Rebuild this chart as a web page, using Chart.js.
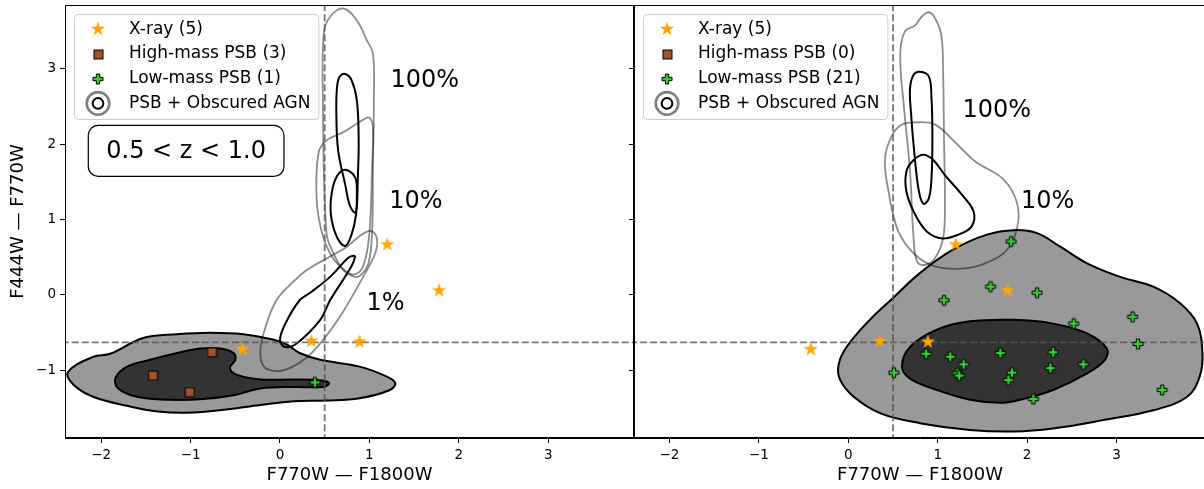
<!DOCTYPE html>
<html>
<head>
<meta charset="utf-8">
<script src="https://cdn.jsdelivr.net/npm/chart.js@4/dist/chart.umd.min.js"></script>
<style>
    html, body { margin: 0; padding: 0; background: #fff; overflow: hidden; }
    body { width: 1204px; height: 489px; position: relative; }
    canvas { position: absolute; top: 0; }
    #izquierda { left: 0; }
    #derecha { left: 628px; }
</style>
</head>
<body>
<canvas id="izquierda" width="635" height="489"></canvas>
<canvas id="derecha" width="578" height="489"></canvas>
<script>
// ---- datos ----
const ticksX = [-2, -1, 0, 1, 2, 3];
const ticksY = [-1, 0, 1, 2, 3];

const corteX = 0.5;
const corteY = -0.63;

const rayosX = [[-0.42, -0.72], [0.35, -0.61], [0.89, -0.62], [1.20, 0.67], [1.78, 0.06]];

const masaAltaIzq = [[-1.42, -1.07], [-0.76, -0.76], [-1.01, -1.29]];
const masaBajaIzq = [[0.39, -1.16]];
const masaAltaDer = [];
const masaBajaDer = [
    [1.82, 0.71], [1.59, 0.11], [2.11, 0.03], [1.07, -0.07], [2.52, -0.38], [3.18, -0.29], [3.24, -0.65],
    [0.87, -0.78], [1.14, -0.82], [1.29, -0.92], [1.70, -0.77], [2.29, -0.76], [2.63, -0.92], [2.26, -0.97],
    [1.83, -1.03], [1.79, -1.13], [1.22, -1.04], [1.24, -1.07], [0.51, -1.03], [2.07, -1.38], [3.51, -1.26]
];

// contornos del panel izquierdo
const rellenoExtIzq = [
    [-2.37, -1.02], [-2.09, -0.82], [-1.90, -0.78], [-1.53, -0.57], [-1.15, -0.52], [-0.78, -0.50], [-0.41, -0.52],
    [-0.08, -0.59], [0.08, -0.66], [0.22, -0.77], [0.45, -0.86], [0.89, -0.95], [1.19, -1.08], [1.29, -1.17],
    [1.23, -1.26], [0.89, -1.37], [0.52, -1.40], [0.15, -1.41], [-0.22, -1.46], [-0.60, -1.52], [-0.97, -1.56],
    [-1.34, -1.55], [-1.71, -1.47], [-2.09, -1.35], [-2.31, -1.19]
];
const rellenoIntIzq = [
    [-1.84, -1.10], [-1.71, -0.95], [-1.42, -0.85], [-1.15, -0.77], [-0.89, -0.71], [-0.67, -0.71], [-0.52, -0.77],
    [-0.50, -0.86], [-0.56, -0.97], [-0.48, -1.06], [-0.22, -1.12], [0.15, -1.12], [0.45, -1.13], [0.55, -1.17],
    [0.48, -1.22], [0.15, -1.22], [-0.22, -1.24], [-0.52, -1.33], [-0.86, -1.38], [-1.23, -1.39], [-1.60, -1.35],
    [-1.81, -1.24]
];
const negro100Izq = [
    [0.73, 2.93], [0.80, 2.85], [0.86, 2.58], [0.88, 2.05], [0.87, 1.52], [0.86, 1.19], [0.84, 1.09],
    [0.78, 1.19], [0.73, 1.46], [0.65, 1.92], [0.63, 2.45], [0.64, 2.78], [0.67, 2.90]
];
const negro10Izq = [
    [0.73, 1.66], [0.84, 1.56], [0.86, 1.33], [0.85, 1.06], [0.80, 0.80], [0.73, 0.65], [0.64, 0.76],
    [0.57, 1.06], [0.58, 1.36], [0.64, 1.58]
];
const negro1Izq = [
    [0.84, 0.51], [0.80, 0.38], [0.56, -0.07], [0.45, -0.33], [0.19, -0.64], [0.06, -0.69], [0.00, -0.60],
    [0.06, -0.38], [0.22, -0.07], [0.35, 0.04], [0.56, 0.24], [0.76, 0.49], [0.82, 0.52]
];
const gris100Izq = [
    [0.71, 3.80], [0.86, 3.64], [0.97, 3.38], [1.04, 3.20], [1.05, 2.58], [1.04, 1.70], [1.03, 0.82],
    [0.99, 0.42], [0.91, 0.27], [0.84, 0.24], [0.71, 0.33], [0.60, 0.55], [0.52, 0.82], [0.48, 2.58],
    [0.49, 3.47], [0.56, 3.69]
];
const gris10Izq = [
    [0.97, 2.35], [0.71, 2.16], [0.52, 2.05], [0.43, 1.88], [0.41, 1.26], [0.47, 0.82], [0.56, 0.55],
    [0.67, 0.38], [0.82, 0.27], [0.93, 0.38], [1.00, 0.82], [1.03, 1.70], [1.04, 2.23], [1.01, 2.34]
];
const gris1Izq = [
    [1.01, 0.85], [1.08, 0.77], [1.07, 0.57], [0.93, 0.24], [0.67, -0.29], [0.48, -0.60], [0.30, -0.83],
    [0.11, -0.97], [-0.04, -1.01], [-0.18, -0.95], [-0.22, -0.73], [-0.15, -0.38], [-0.04, -0.07], [0.11, 0.13],
    [0.30, 0.33], [0.56, 0.51], [0.75, 0.64], [0.89, 0.78]
];

// contornos del panel derecho
const rellenoExtDer = [
    [-0.11, -0.93], [-0.02, -0.69], [0.24, -0.33], [0.50, -0.04], [0.80, 0.29], [1.17, 0.60], [1.55, 0.80],
    [1.85, 0.86], [2.11, 0.82], [2.37, 0.64], [2.67, 0.42], [3.04, 0.24], [3.41, 0.11], [3.71, -0.11],
    [3.90, -0.38], [3.96, -0.77], [3.93, -1.08], [3.79, -1.35], [3.41, -1.53], [2.85, -1.66], [2.29, -1.77],
    [1.85, -1.81], [1.36, -1.79], [0.80, -1.70], [0.36, -1.57], [0.06, -1.35], [-0.09, -1.13]
];
const rellenoIntDer = [
    [0.60, -0.95], [0.69, -0.69], [0.99, -0.46], [1.36, -0.35], [1.85, -0.33], [2.29, -0.38], [2.67, -0.51],
    [2.89, -0.71], [2.87, -0.86], [2.67, -1.04], [2.29, -1.26], [1.92, -1.39], [1.70, -1.43], [1.36, -1.39],
    [0.99, -1.26], [0.69, -1.11]
];
const negro100Der = [
    [0.80, 2.96], [0.90, 2.90], [0.93, 2.61], [0.94, 2.08], [0.93, 1.55], [0.90, 1.28], [0.84, 1.21],
    [0.79, 1.37], [0.74, 1.86], [0.70, 2.43], [0.69, 2.74], [0.73, 2.92]
];
const negro10Der = [
    [0.84, 1.86], [0.95, 1.79], [1.08, 1.59], [1.27, 1.33], [1.40, 1.11], [1.38, 0.91], [1.23, 0.80],
    [1.05, 0.75], [0.88, 0.84], [0.75, 1.06], [0.65, 1.37], [0.65, 1.64], [0.73, 1.79]
];
const gris100Der = [
    [0.90, 3.75], [0.97, 3.67], [1.04, 3.45], [1.06, 2.96], [1.07, 2.08], [1.08, 1.19], [1.06, 0.75],
    [0.97, 0.49], [0.86, 0.40], [0.77, 0.44], [0.73, 0.75], [0.69, 1.64], [0.62, 2.52], [0.58, 3.18],
    [0.63, 3.49], [0.75, 3.58], [0.82, 3.69]
];
const gris10Der = [
    [0.75, 2.29], [0.97, 2.26], [1.19, 2.03], [1.42, 1.77], [1.72, 1.55], [1.87, 1.28], [1.90, 0.97],
    [1.79, 0.62], [1.53, 0.42], [1.27, 0.35], [0.97, 0.38], [0.75, 0.53], [0.56, 0.84], [0.45, 1.37],
    [0.41, 1.81], [0.49, 2.12], [0.60, 2.26]
];

const leyendaIzq = ["X-ray (5)", "High-mass PSB (3)", "Low-mass PSB (1)", "PSB + Obscured AGN"];
const leyendaDer = ["X-ray (5)", "High-mass PSB (0)", "Low-mass PSB (21)", "PSB + Obscured AGN"];

const etiquetasIzq = [
    { texto: "100%", x: 1.62, y: 2.84 },
    { texto: "10%", x: 1.52, y: 1.24 },
    { texto: "1%", x: 1.18, y: -0.12 }
];
const etiquetasDer = [
    { texto: "100%", x: 1.66, y: 2.44 },
    { texto: "10%", x: 2.23, y: 1.24 }
];
const cajaRedshift = { texto: "0.5 < z < 1.0", x: -1.05, y: 1.91 };

const tituloX = "F770W \u2014 F1800W";
const tituloY = "F444W \u2014 F770W";

// ---- estilo ----
const fuente = "'DejaVu Sans', sans-serif";
Chart.defaults.font.family = fuente;
Chart.defaults.color = "#000";

function pares(lista) {
    return lista.map(([x, y]) => ({ x: x, y: y }));
}

function formatoTick(valor) {
    return valor < 0 ? "\u2212" + Math.abs(valor) : String(valor);
}

function rectRedondeado(ctx, x, y, w, h, r) {
    ctx.beginPath();
    ctx.moveTo(x + r, y);
    ctx.lineTo(x + w - r, y);
    ctx.arcTo(x + w, y, x + w, y + r, r);
    ctx.lineTo(x + w, y + h - r);
    ctx.arcTo(x + w, y + h, x + w - r, y + h, r);
    ctx.lineTo(x + r, y + h);
    ctx.arcTo(x, y + h, x, y + h - r, r);
    ctx.lineTo(x, y + r);
    ctx.arcTo(x, y, x + r, y, r);
    ctx.closePath();
}

function crearEstrella(radio) {
    const lienzo = document.createElement("canvas");
    const lado = Math.ceil(radio * 2 + 2);
    lienzo.width = lado;
    lienzo.height = lado;
    const ctx = lienzo.getContext("2d");
    ctx.translate(lado / 2, lado / 2);
    ctx.beginPath();
    for (let i = 0; i < 10; i++) {
        const r = i % 2 === 0 ? radio : radio * 0.382;
        const a = -Math.PI / 2 + i * Math.PI / 5;
        ctx.lineTo(r * Math.cos(a), r * Math.sin(a));
    }
    ctx.closePath();
    ctx.fillStyle = "#ffa500";
    ctx.fill();
    return lienzo;
}

function crearCuadrado(lado) {
    const lienzo = document.createElement("canvas");
    lienzo.width = lado + 2;
    lienzo.height = lado + 2;
    const ctx = lienzo.getContext("2d");
    ctx.fillStyle = "#a0522d";
    ctx.fillRect(1, 1, lado, lado);
    ctx.strokeStyle = "#000";
    ctx.lineWidth = 1;
    ctx.strokeRect(1, 1, lado, lado);
    return lienzo;
}

function crearCruz(tam) {
    const lienzo = document.createElement("canvas");
    lienzo.width = tam + 2;
    lienzo.height = tam + 2;
    const ctx = lienzo.getContext("2d");
    const s = tam / 6;
    const forma = [[-1, -3], [-1, -1], [-3, -1], [-3, 1], [-1, 1], [-1, 3], [1, 3], [1, 1], [3, 1], [3, -1], [1, -1], [1, -3]];
    ctx.translate(lienzo.width / 2, lienzo.height / 2);
    ctx.beginPath();
    forma.forEach(([a, b]) => ctx.lineTo(a * s / 2, b * s / 2));
    ctx.closePath();
    ctx.fillStyle = "#32cd32";
    ctx.fill();
    ctx.strokeStyle = "#000";
    ctx.lineWidth = 1;
    ctx.stroke();
    return lienzo;
}

const estrella = crearEstrella(7.6);
const cuadrado = crearCuadrado(9);
const cruz = crearCruz(20);

function dibujarLeyenda(chart, textos) {
    const ctx = chart.ctx;
    const area = chart.chartArea;
    ctx.save();
    ctx.font = "17px " + fuente;
    const anchoTexto = Math.max(...textos.map((t) => ctx.measureText(t).width));
    const x0 = area.left + 9;
    const y0 = area.top + 9;
    rectRedondeado(ctx, x0 + 0.5, y0 + 0.5, 55 + anchoTexto + 8, 105, 4);
    ctx.fillStyle = "rgba(255,255,255,0.8)";
    ctx.fill();
    ctx.strokeStyle = "#cccccc";
    ctx.lineWidth = 1;
    ctx.stroke();

    const simbolos = [estrella, cuadrado, cruz];
    textos.forEach((texto, i) => {
        const cx = x0 + 24;
        const cy = y0 + 15.3 + i * 24.7;
        if (i < 3) {
            const img = simbolos[i];
            ctx.drawImage(img, Math.round(cx - img.width / 2), Math.round(cy - img.height / 2));
        } else {
            ctx.beginPath();
            ctx.arc(cx, cy, 11.3, 0, Math.PI * 2);
            ctx.strokeStyle = "#808080";
            ctx.lineWidth = 2.6;
            ctx.stroke();
            ctx.beginPath();
            ctx.arc(cx, cy, 5.3, 0, Math.PI * 2);
            ctx.strokeStyle = "#000";
            ctx.lineWidth = 2;
            ctx.stroke();
        }
        ctx.fillStyle = "#000";
        ctx.textAlign = "left";
        ctx.textBaseline = "middle";
        ctx.fillText(texto, x0 + 55, cy);
    });
    ctx.restore();
}

function crearPlugin(nombre, etiquetas, leyenda, caja) {
    return {
        id: "panel" + nombre,
        afterDatasetUpdate(chart, args) {
            const conjunto = chart.data.datasets[args.index];
            if (conjunto.cerrado && args.meta.dataset) {
                args.meta.dataset._loop = true;
                args.meta.dataset._fullLoop = true;
            }
        },
        afterDatasetsDraw(chart) {
            const ctx = chart.ctx;
            const area = chart.chartArea;
            const ejeX = chart.scales.x;
            const ejeY = chart.scales.y;
            ctx.save();
            ctx.strokeStyle = "#000";
            ctx.lineWidth = 1;
            ctx.strokeRect(area.left + 0.5, area.top + 0.5, area.right - area.left - 1, area.bottom - area.top - 1);

            ctx.font = "24px " + fuente;
            ctx.fillStyle = "#000";
            ctx.textAlign = "center";
            ctx.textBaseline = "middle";
            for (const e of etiquetas) {
                ctx.fillText(e.texto, ejeX.getPixelForValue(e.x), ejeY.getPixelForValue(e.y));
            }

            if (caja) {
                const cx = ejeX.getPixelForValue(caja.x);
                const cy = ejeY.getPixelForValue(caja.y);
                const w = ctx.measureText(caja.texto).width + 36;
                const h = 51;
                rectRedondeado(ctx, cx - w / 2, cy - h / 2, w, h, 10);
                ctx.fillStyle = "#fff";
                ctx.fill();
                ctx.lineWidth = 1.2;
                ctx.strokeStyle = "#000";
                ctx.stroke();
                ctx.fillStyle = "#000";
                ctx.fillText(caja.texto, cx, cy + 1);
            }
            ctx.restore();
        },
        afterDraw(chart) {
            dibujarLeyenda(chart, leyenda);
        }
    };
}

function contorno(datos, color, ancho, orden) {
    return {
        data: pares(datos),
        cerrado: true,
        borderColor: color,
        borderWidth: ancho,
        pointRadius: 0,
        pointHitRadius: 0,
        tension: 0.38,
        fill: false,
        order: orden
    };
}

function relleno(datos, colorFondo, orden) {
    const d = contorno(datos, "#000", 2, orden);
    d.fill = "shape";
    d.backgroundColor = colorFondo;
    return d;
}

function marcadores(datos, imagen) {
    return {
        data: pares(datos),
        showLine: false,
        pointStyle: imagen,
        pointRadius: 6,
        order: 0
    };
}

function discontinua(datos) {
    return {
        data: pares(datos),
        borderColor: "rgba(85,85,85,0.8)",
        borderWidth: 1.8,
        borderDash: [7, 3],
        pointRadius: 0,
        fill: false,
        order: 1
    };
}

function crearEscalas(minX, maxX, conEtiquetas) {
    return {
        x: {
            type: "linear",
            min: minX,
            max: maxX,
            afterBuildTicks: (eje) => { eje.ticks = ticksX.map((v) => ({ value: v })); },
            afterFit: (eje) => {
                eje.height = 51;
                eje.paddingLeft = 0;
                eje.paddingRight = 0;
            },
            ticks: { font: { size: 13.5 }, color: "#000", padding: 4, maxRotation: 0, autoSkip: false, callback: formatoTick },
            grid: { drawOnChartArea: false, tickLength: 5, color: "#000" },
            border: { color: "#000" },
            title: { display: true, text: tituloX, font: { size: 18 }, color: "#000", padding: { top: 0, bottom: 3 } }
        },
        y: {
            type: "linear",
            min: -1.897,
            max: 3.846,
            afterBuildTicks: (eje) => { eje.ticks = ticksY.map((v) => ({ value: v })); },
            afterFit: (eje) => {
                eje.width = conEtiquetas ? 65 : 6;
                eje.paddingTop = 0;
                eje.paddingBottom = 0;
            },
            ticks: { display: conEtiquetas, font: { size: 13.5 }, color: "#000", padding: 4, autoSkip: false, callback: formatoTick },
            grid: { drawOnChartArea: false, tickLength: 5, color: "#000" },
            border: { color: "#000" },
            title: { display: conEtiquetas, text: tituloY, font: { size: 18 }, color: "#000", padding: { top: 8, bottom: 0 } }
        }
    };
}

function crearGrafica(lienzo, conjuntos, escalas, margen, plugin) {
    return new Chart(lienzo, {
        type: "line",
        data: { datasets: conjuntos },
        options: {
            responsive: false,
            animation: false,
            events: [],
            layout: { padding: margen, autoPadding: false },
            scales: escalas,
            plugins: { legend: { display: false }, tooltip: { enabled: false } }
        },
        plugins: [plugin]
    });
}

crearGrafica(
    document.querySelector("#izquierda"),
    [
        marcadores(rayosX, estrella),
        marcadores(masaAltaIzq, cuadrado),
        marcadores(masaBajaIzq, cruz),
        discontinua([[corteX, -3], [corteX, 5]]),
        discontinua([[-3, corteY], [5, corteY]]),
        contorno(negro100Izq, "#000", 2, 2),
        contorno(negro10Izq, "#000", 2, 2),
        contorno(negro1Izq, "#000", 2, 2),
        contorno(gris100Izq, "rgba(0,0,0,0.45)", 1.8, 3),
        contorno(gris10Izq, "rgba(0,0,0,0.45)", 1.8, 3),
        contorno(gris1Izq, "rgba(0,0,0,0.45)", 1.8, 3),
        relleno(rellenoIntIzq, "#333333", 4),
        relleno(rellenoExtIzq, "#999999", 5)
    ],
    crearEscalas(-2.405, 3.96, true),
    { top: 5, right: 1, left: 0, bottom: 0 },
    crearPlugin("Izq", etiquetasIzq, leyendaIzq, cajaRedshift)
);

crearGrafica(
    document.querySelector("#derecha"),
    [
        marcadores(rayosX, estrella),
        marcadores(masaAltaDer, cuadrado),
        marcadores(masaBajaDer, cruz),
        discontinua([[corteX, -3], [corteX, 5]]),
        discontinua([[-3, corteY], [5, corteY]]),
        contorno(negro100Der, "#000", 2, 2),
        contorno(negro10Der, "#000", 2, 2),
        contorno(gris100Der, "rgba(0,0,0,0.45)", 1.8, 3),
        contorno(gris10Der, "rgba(0,0,0,0.45)", 1.8, 3),
        relleno(rellenoIntDer, "#333333", 4),
        relleno(rellenoExtDer, "#999999", 5)
    ],
    crearEscalas(-2.397, 4.0, false),
    { top: 5, right: 0, left: 0, bottom: 0 },
    crearPlugin("Der", etiquetasDer, leyendaDer, null)
);
</script>
</body>
</html>
